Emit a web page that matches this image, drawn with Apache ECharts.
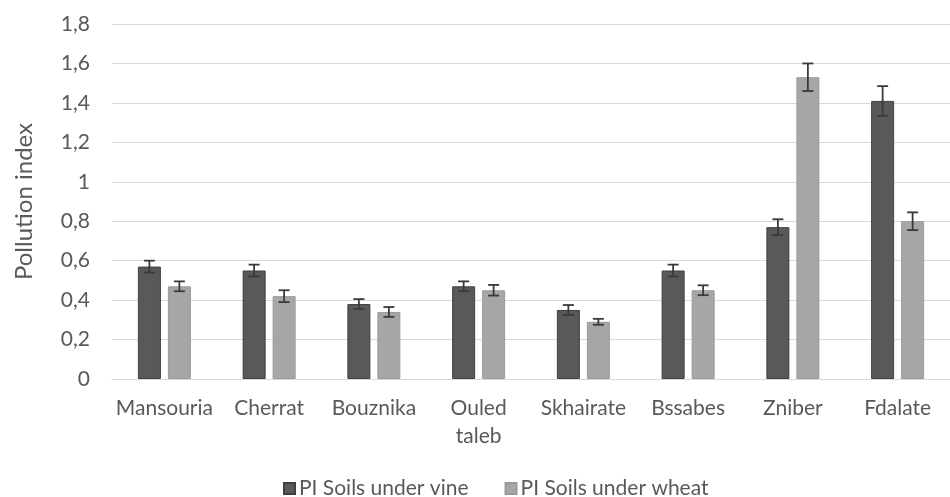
<!DOCTYPE html>
<html>
<head>
<meta charset="utf-8">
<script src="https://cdn.jsdelivr.net/npm/echarts@6/dist/echarts.min.js"></script>
<style>
  html, body { margin: 0; padding: 0; background: #fff; }
  #main { width: 950px; height: 497px; }
</style>
</head>
<body>
<div id="main"></div>
<script>
const categories = ["Mansouria", "Cherrat", "Bouznika", "Ouled\ntaleb", "Skhairate", "Bssabes", "Zniber", "Fdalate"];
const vine = [0.57, 0.55, 0.38, 0.47, 0.35, 0.55, 0.77, 1.41];
const vineErr = [0.03, 0.03, 0.025, 0.025, 0.025, 0.03, 0.04, 0.075];
const wheat = [0.47, 0.42, 0.34, 0.45, 0.29, 0.45, 1.53, 0.80];
const wheatErr = [0.025, 0.03, 0.025, 0.027, 0.015, 0.025, 0.07, 0.045];

const FONT = "Lato";
const FS = 21;
const BAR_W = 23;
const GAP = 7;
const OFF = (BAR_W + GAP) / 2;

let myChart = echarts.init(document.getElementById("main"));

// error bars drawn on top of each bar
function errorSeries(values, errs, offset) {
  return {
    type: "custom",
    z: 10,
    silent: true,
    encode: { x: 0, y: 1 },
    data: values.map((v, i) => [i, v, errs[i]]),
    renderItem: (params, api) => {
      const i = api.value(0);
      const v = api.value(1);
      const e = api.value(2);
      const hi = api.coord([i, v + e]);
      const lo = api.coord([i, v - e]);
      const x = hi[0] + offset;
      const cap = 5.5;
      const style = { stroke: "#3a3a3a", lineWidth: 1.8 };
      return {
        type: "group",
        children: [
          { type: "line", shape: { x1: x, y1: hi[1], x2: x, y2: lo[1] }, style },
          { type: "line", shape: { x1: x - cap, y1: hi[1], x2: x + cap, y2: hi[1] }, style },
          { type: "line", shape: { x1: x - cap, y1: lo[1], x2: x + cap, y2: lo[1] }, style },
        ],
      };
    },
  };
}

let option = {
  animation: false,
  textStyle: { fontFamily: FONT },
  grid: { left: 112, top: 24, width: 851, height: 355 },
  legend: {
    top: 473,
    left: 278,
    itemWidth: 11,
    itemHeight: 11,
    itemGap: 36,
    icon: "rect",
    data: ["PI Soils under vine", "PI Soils under wheat"],
    textStyle: { fontFamily: FONT, fontSize: FS, color: "#595959", padding: [0, 0, 0, -1] },
  },
  xAxis: {
    type: "category",
    data: categories,
    axisLine: { lineStyle: { color: "#d9d9d9" } },
    axisTick: { show: false },
    axisLabel: {
      color: "#595959",
      fontSize: FS,
      fontFamily: FONT,
      margin: 15,
      lineHeight: 28,
      interval: 0,
    },
  },
  yAxis: {
    type: "value",
    min: 0,
    max: 1.8,
    interval: 0.2,
    name: "Pollution index",
    nameLocation: "middle",
    nameRotate: 90,
    nameGap: 76,
    nameTextStyle: { color: "#595959", fontSize: 24, fontFamily: FONT },
    axisLine: { show: false },
    axisTick: { show: false },
    splitLine: { lineStyle: { color: "#d9d9d9", width: 1 } },
    axisLabel: {
      color: "#595959",
      fontSize: FS,
      fontFamily: FONT,
      margin: 22,
      formatter: (v) => String(+v.toFixed(1)).replace(".", ","),
    },
  },
  series: [
    {
      name: "PI Soils under vine",
      type: "bar",
      data: vine,
      barWidth: BAR_W,
      barGap: (GAP / BAR_W) * 100 + "%",
      itemStyle: { color: "#595959", borderColor: "#3f3f3f", borderWidth: 1 },
    },
    {
      name: "PI Soils under wheat",
      type: "bar",
      data: wheat,
      barWidth: BAR_W,
      itemStyle: { color: "#a6a6a6", borderColor: "#9a9a9a", borderWidth: 1 },
    },
    errorSeries(vine, vineErr, -OFF),
    errorSeries(wheat, wheatErr, OFF),
  ],
};

myChart.setOption(option);
</script>
</body>
</html>
